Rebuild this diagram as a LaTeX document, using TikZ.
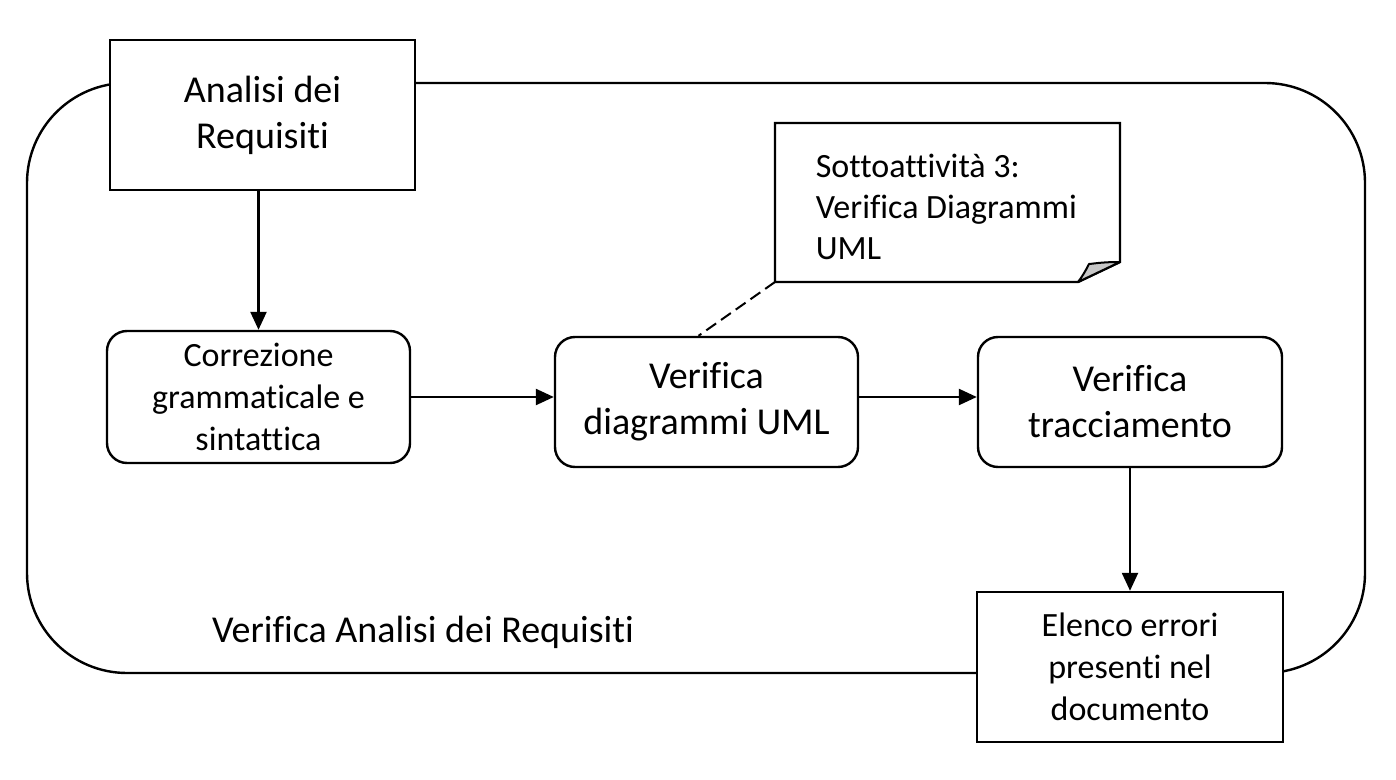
\documentclass[tikz,border=0pt]{standalone}
\usepackage{fontspec}
\setmainfont{Carlito}[Ligatures=NoCommon]
\usetikzlibrary{arrows.meta}
\begin{document}
\begin{tikzpicture}[x=0.5pt,y=-0.5pt,
  line width=1.2pt,
  bigtxt/.style={font=\fontsize{19}{23}\selectfont, align=center},
  smalltxt/.style={font=\fontsize{17}{21}\selectfont, align=center},
  plainbox/.style={draw, fill=white, inner sep=0pt, minimum width=152.5pt, minimum height=75pt},
  procbox/.style={draw, fill=white, rounded corners=10pt, inner sep=0pt, minimum width=151.5pt, minimum height=65pt},
  flow/.style={-{Triangle[length=9pt,width=8pt]}},
  notefold/.style={fill=black!22, line width=1pt, line join=round}
]
\useasboundingbox (0,0) rectangle (1396,780);
% outer rounded frame
\draw[rounded corners=50pt] (27,83) rectangle (1365,673);
\node[font=\fontsize{19}{23}\selectfont] (lbl) at (423,632) {Verifica Analisi dei Requisiti};

% nodes
\node[plainbox, bigtxt] (an) at (262.5,115) {Analisi dei\\Requisiti};
\node[procbox, smalltxt, minimum height=66pt] (corr) at (258.5,397) {Correzione\\grammaticale e\\sintattica};
\node[procbox, bigtxt] (uml) at (706.5,402) {Verifica\\diagrammi UML};
\node[procbox, bigtxt, minimum width=152pt] (tr) at (1130,402) {Verifica\\tracciamento};
\node[plainbox, smalltxt, minimum width=153pt] (el) at (1130,667) {Elenco errori\\presenti nel\\documento};

% note
\coordinate (nsw) at (775,282);
\draw[fill=white, line join=miter] (nsw) -- (775,123) -- (1120,123) -- (1120,262) -- (1078,282) -- cycle;
\draw[notefold] (1120,262) .. controls (1100,262) and (1092,264) .. (1089,264)
   .. controls (1086,270) and (1082,277) .. (1078,282) -- cycle;
\node[font=\fontsize{17}{20.5}\selectfont, align=left, anchor=west] (note) at (808,207) {Sottoattività 3:\\Verifica Diagrammi\\UML};

% connectors
\draw[flow] (corr.north |- an.south) -- (corr.north);
\draw[flow] (corr.east) -- (corr.east -| uml.west);
\draw[flow] (uml.east |- corr.east) -- (tr.west |- corr.east);
\draw[flow] (tr.south) -- (el.north);
\draw[dashed, line width=1pt, dash pattern=on 6pt off 3pt] (nsw) -- ([xshift=-4pt]uml.north);
\end{tikzpicture}
\end{document}
